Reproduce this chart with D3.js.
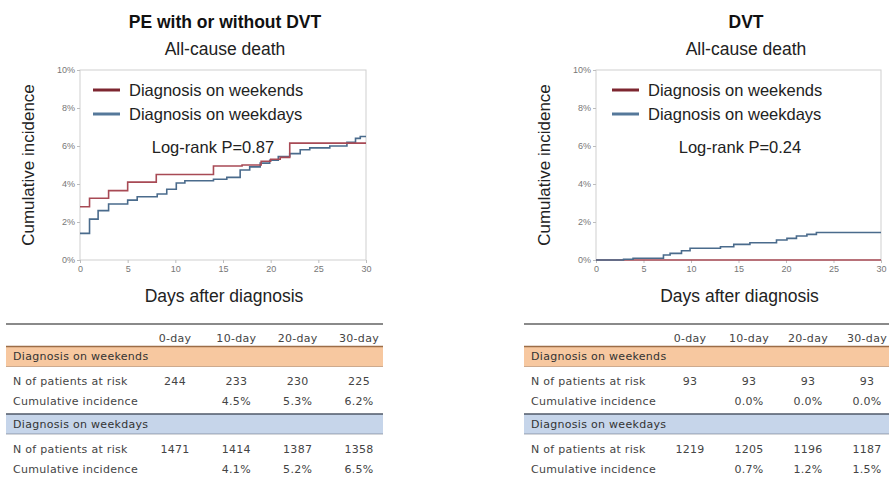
<!DOCTYPE html>
<html>
<head>
<meta charset="utf-8">
<script src="https://cdn.jsdelivr.net/npm/d3@7"></script>
<style>
  body { margin: 0; background: #fff; }
  svg { display: block; font-family: "Liberation Sans", Arial, sans-serif; }
</style>
</head>
<body>
<div id="chart"></div>
<script>
// Days and cumulative incidence (%) for each step curve
const peWeekendDays = [0, 1, 3, 5, 8, 14, 17, 19, 20, 21, 22, 30];
const peWeekendInc = [2.8, 3.25, 3.65, 4.1, 4.5, 4.95, 5.0, 5.2, 5.3, 5.4, 6.15, 6.15];
const peWeekdayDays = [0, 1, 1.9, 3, 5, 6, 8.1, 9.1, 10.1, 11, 14, 15.4, 16.8, 17.8, 18.9, 19.9, 20.8, 22, 23.1, 24.1, 26.2, 28, 28.9, 29.4, 30];
const peWeekdayInc = [1.4, 2.15, 2.6, 2.95, 3.15, 3.33, 3.47, 3.72, 4.05, 4.17, 4.25, 4.35, 4.74, 4.9, 5.1, 5.25, 5.45, 5.6, 5.8, 5.9, 6.0, 6.2, 6.4, 6.5, 6.5];
const dvtWeekendDays = [0, 30];
const dvtWeekendInc = [0, 0];
const dvtWeekdayDays = [0, 2.9, 3.9, 7.1, 7.8, 9, 9.9, 13.1, 14.5, 16.2, 19, 20.1, 21.1, 22.2, 23.2, 30];
const dvtWeekdayInc = [0, 0.04, 0.09, 0.26, 0.35, 0.49, 0.62, 0.7, 0.82, 0.91, 1.05, 1.14, 1.26, 1.35, 1.45, 1.45];

// Table values
const tableCols = ["0-day", "10-day", "20-day", "30-day"];
const peWeekendRisk = ["244", "233", "230", "225"];
const peWeekendCum = ["", "4.5%", "5.3%", "6.2%"];
const peWeekdayRisk = ["1471", "1414", "1387", "1358"];
const peWeekdayCum = ["", "4.1%", "5.2%", "6.5%"];
const dvtWeekendRisk = ["93", "93", "93", "93"];
const dvtWeekendCum = ["", "0.0%", "0.0%", "0.0%"];
const dvtWeekdayRisk = ["1219", "1205", "1196", "1187"];
const dvtWeekdayCum = ["", "0.7%", "1.2%", "1.5%"];

const xTicks = [0, 5, 10, 15, 20, 25, 30];
const yTicks = [0, 2, 4, 6, 8, 10];

const redLine = "#a84a55";
const blueLine = "#4a6b8c";

const svg = d3.select("#chart").append("svg").attr("width", 889).attr("height", 480);

function zipSeries(days, inc) {
  return days.map((d, i) => ({ day: d, inc: inc[i] }));
}

function drawPanel(opt) {
  const x = d3.scaleLinear().domain([0, 30]).range([opt.left, opt.right]);
  const y = d3.scaleLinear().domain([0, 10]).range([260, 70]);

  // Titles
  svg.append("text")
    .attr("x", opt.cx).attr("y", 28)
    .attr("text-anchor", "middle")
    .style("font-size", "17.5px").style("font-weight", "bold").style("fill", "#111")
    .text(opt.title);
  svg.append("text")
    .attr("x", opt.cx).attr("y", 55)
    .attr("text-anchor", "middle")
    .style("font-size", "17.5px").style("fill", "#222")
    .text("All-cause death");

  // Frame
  svg.append("rect")
    .attr("x", opt.left).attr("y", 70)
    .attr("width", opt.right - opt.left).attr("height", 190)
    .style("fill", "none").style("stroke", "#cfcfcf");

  // Axes
  const gx = svg.append("g")
    .attr("transform", `translate(0,260)`)
    .call(d3.axisBottom(x).tickValues(xTicks).tickSize(3).tickPadding(3));
  const gy = svg.append("g")
    .attr("transform", `translate(${opt.left},0)`)
    .call(d3.axisLeft(y).tickValues(yTicks).tickSize(3).tickPadding(2).tickFormat(d => d + "%"));
  [gx, gy].forEach(g => {
    g.select(".domain").remove();
    g.selectAll("line").style("stroke", "#bdbdbd");
    g.selectAll("text").style("font-size", "9px").style("fill", "#777").style("font-family", "Liberation Sans, Arial, sans-serif");
  });

  // Axis titles
  svg.append("text")
    .attr("transform", `translate(${opt.left - 52},${165}) rotate(-90)`)
    .attr("text-anchor", "middle")
    .attr("dy", "0.35em")
    .style("font-size", "17px").style("fill", "#222")
    .text("Cumulative incidence");
  svg.append("text")
    .attr("x", (opt.left + opt.right) / 2 + 1).attr("y", 302)
    .attr("text-anchor", "middle")
    .style("font-size", "17.5px").style("fill", "#222")
    .text("Days after diagnosis");

  // Step curves
  const line = d3.line().x(d => x(d.day)).y(d => y(d.inc)).curve(d3.curveStepAfter);
  opt.series.forEach(s => {
    svg.append("path")
      .datum(zipSeries(s.days, s.inc))
      .attr("d", line)
      .style("fill", "none")
      .style("stroke", s.color)
      .style("stroke-width", "1.6px");
  });

  // Legend
  const legend = svg.append("g").attr("transform", `translate(${opt.legendX},90)`);
  [["Diagnosis on weekends", "#7d2630"], ["Diagnosis on weekdays", "#55789a"]].forEach((l, i) => {
    legend.append("line")
      .attr("x1", 0).attr("x2", 27).attr("y1", i * 24).attr("y2", i * 24)
      .style("stroke", l[1]).style("stroke-width", "3px");
    legend.append("text")
      .attr("x", 36).attr("y", i * 24).attr("dy", "0.35em")
      .style("font-size", "16.5px").style("fill", "#222")
      .text(l[0]);
  });

  svg.append("text")
    .attr("x", opt.pX).attr("y", 147).attr("dy", "0.35em")
    .attr("text-anchor", "middle")
    .style("font-size", "16.5px").style("fill", "#222")
    .text(opt.pText);
}

function drawTable(opt) {
  const col = d3.scaleLinear().domain([0, 3]).range([opt.c0, opt.c3]);
  const g = svg.append("g")
    .style("font-family", "DejaVu Sans, Verdana, sans-serif")
    .style("font-size", "11px")
    .style("letter-spacing", "0.3px");

  g.append("line")
    .attr("x1", opt.x0).attr("x2", opt.x1).attr("y1", 324).attr("y2", 324)
    .style("stroke", "#8a8a8a").style("stroke-width", "2px");

  tableCols.forEach((c, i) => {
    g.append("text").attr("x", col(i)).attr("y", 338).attr("dy", "0.35em")
      .attr("text-anchor", "middle").style("fill", "#444").text(c);
  });

  const groups = [
    { name: "Diagnosis on weekends", fill: "#f7c8a0", edge: "#9c6d47", top: 346.5, risk: opt.wkendRisk, cum: opt.wkendCum },
    { name: "Diagnosis on weekdays", fill: "#c6d5ea", edge: "#4f5968", top: 414, risk: opt.wkdayRisk, cum: opt.wkdayCum }
  ];
  groups.forEach(gr => {
    g.append("rect")
      .attr("x", opt.x0).attr("y", gr.top)
      .attr("width", opt.x1 - opt.x0).attr("height", 20)
      .style("fill", gr.fill);
    g.append("line")
      .attr("x1", opt.x0).attr("x2", opt.x1).attr("y1", gr.top).attr("y2", gr.top)
      .style("stroke", gr.edge).style("stroke-width", "1.5px");
    g.append("line")
      .attr("x1", opt.x0).attr("x2", opt.x1).attr("y1", gr.top + 20).attr("y2", gr.top + 20)
      .style("stroke", gr.edge).style("stroke-width", "0.8px").style("opacity", 0.6);
    g.append("text").attr("x", opt.x0 + 7).attr("y", gr.top + 10).attr("dy", "0.35em")
      .style("fill", "#333").text(gr.name);

    [["N of patients at risk", gr.risk], ["Cumulative incidence", gr.cum]].forEach((r, j) => {
      const yy = gr.top + 35 + j * 20;
      g.append("text").attr("x", opt.x0 + 7).attr("y", yy).attr("dy", "0.35em")
        .style("fill", "#444").text(r[0]);
      r[1].forEach((v, i) => {
        g.append("text").attr("x", col(i)).attr("y", yy).attr("dy", "0.35em")
          .attr("text-anchor", "middle").style("fill", "#444").text(v);
      });
    });
  });
}

drawPanel({
  title: "PE with or without DVT", cx: 225, left: 80, right: 366,
  legendX: 93, pX: 213, pText: "Log-rank P=0.87",
  series: [
    { days: peWeekdayDays, inc: peWeekdayInc, color: blueLine },
    { days: peWeekendDays, inc: peWeekendInc, color: redLine }
  ]
});

drawPanel({
  title: "DVT", cx: 746, left: 596, right: 881,
  legendX: 612, pX: 740, pText: "Log-rank P=0.24",
  series: [
    { days: dvtWeekendDays, inc: dvtWeekendInc, color: redLine },
    { days: dvtWeekdayDays, inc: dvtWeekdayInc, color: blueLine }
  ]
});

drawTable({
  x0: 6, x1: 383, c0: 175, c3: 359,
  wkendRisk: peWeekendRisk, wkendCum: peWeekendCum,
  wkdayRisk: peWeekdayRisk, wkdayCum: peWeekdayCum
});

drawTable({
  x0: 524, x1: 889, c0: 690, c3: 867,
  wkendRisk: dvtWeekendRisk, wkendCum: dvtWeekendCum,
  wkdayRisk: dvtWeekdayRisk, wkdayCum: dvtWeekdayCum
});
</script>
</body>
</html>
